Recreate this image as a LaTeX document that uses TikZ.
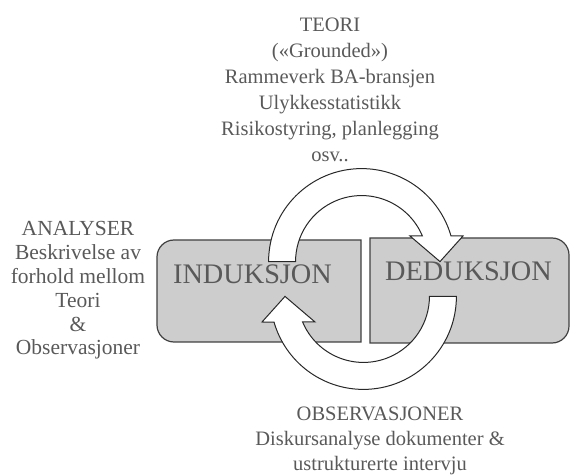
\documentclass[tikz,border=0pt]{standalone}
\usepackage{fontspec}
\setmainfont{Liberation Serif}
\definecolor{labelgray}{RGB}{89,89,89}
\definecolor{boxfill}{RGB}{205,205,205}
\definecolor{boxline}{RGB}{64,64,64}
\definecolor{arrowline}{RGB}{40,40,40}

\begin{document}
\begin{tikzpicture}[x=1pt,y=1pt,
  caption/.style={align=center, text=labelgray, inner sep=0pt, anchor=base},
  phase/.style={text=labelgray, inner sep=0pt, anchor=base, font=\fontsize{28.3}{34}\selectfont},
  panel/.style={fill=boxfill, draw=boxline, line width=1.2pt},
  cyclearrow/.style={fill=white, draw=arrowline, line width=1pt, line join=miter},
  halfcycle/.pic={
    \draw[cyclearrow] (-93,0) arc[start angle=180,end angle=16,radius=93]
      -- (101.4,25.6) -- (78.4,0) -- (48.4,25.6) -- (60.8,25.6)
      arc[start angle=22.8,end angle=180,radius=66] -- cycle;
  }]
\useasboundingbox (0,0) rectangle (570,474);

% the two phase panels
\draw[panel] (361,234) -- (174,234) arc[start angle=90,end angle=180,radius=17]
  -- (157,149) arc[start angle=180,end angle=270,radius=17] -- (361,132) -- cycle;
\draw[panel] (370,236) -- (552,236) arc[start angle=90,end angle=0,radius=17]
  -- (569,148) arc[start angle=0,end angle=-90,radius=17] -- (370,131) -- cycle;

\node[phase] (ind) at (252.5,190) {INDUKSJON};
\node[phase] (ded) at (468.5,193) {DEDUKSJON};

% the cycle: two curved arrows, one turned half a revolution
\pic (upper) at (361.6,212.4) {halfcycle};
\pic[rotate=180] (lower) at (363.4,177.6) {halfcycle};

% surrounding captions (anchored at the baseline of their last line)
\node[caption, font=\fontsize{20.5}{26}\selectfont] (theory) at (330,312)
  {TEORI\\(«Grounded»)\\Rammeverk BA-bransjen\\Ulykkesstatistikk\\Risikostyring, planlegging\\osv..};
\node[caption, font=\fontsize{21.5}{23.8}\selectfont] (analysis) at (78,119)
  {ANALYSER\\Beskrivelse av\\forhold mellom\\Teori\\\&\\Observasjoner};
\node[caption, font=\fontsize{20.5}{25}\selectfont] (obs) at (380,4)
  {OBSERVASJONER\\Diskursanalyse dokumenter \&\\ustrukturerte intervju};
\end{tikzpicture}
\end{document}
